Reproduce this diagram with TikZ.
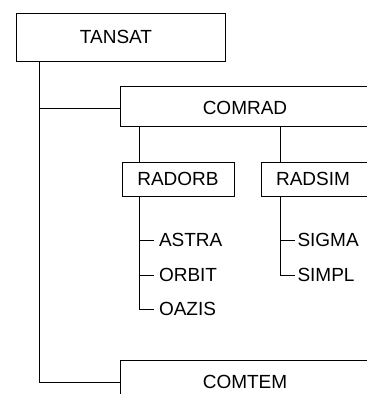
\documentclass[tikz,border=0pt]{standalone}
\usepackage{fontspec}
\setmainfont{Liberation Sans}
\begin{document}
\begin{tikzpicture}[x=1pt,y=-1pt,line width=1pt,
  box/.style={draw,rectangle,inner sep=0pt,anchor=north west},
  lbl/.style={font=\fontsize{19}{21}\selectfont,inner sep=0pt},
  leaf/.style={font=\fontsize{19}{21}\selectfont,inner sep=0pt,anchor=west}]
\useasboundingbox (0,0) rectangle (367,394);
\clip (0,0) rectangle (367,394);
\fill[white] (0,0) rectangle (367,394);
% boxes
\node[box,minimum width=209pt,minimum height=48pt] (tansat) at (16,13) {};
\node[box,minimum width=280pt,minimum height=40pt] (comrad) at (120,85.5) {};
\node[box,minimum width=112pt,minimum height=34pt] (radorb) at (122,162) {};
\node[box,minimum width=130pt,minimum height=34pt] (radsim) at (261,162) {};
\node[box,minimum width=280pt,minimum height=44pt] (comtem) at (120,360) {};
% labels
\node[lbl] (tansatT) at (116,37) {TANSAT};
\node[lbl] (comradT) at (245,108) {COMRAD};
\node[lbl] (radorbT) at (178,179) {RADORB};
\node[lbl] (radsimT) at (313,179) {RADSIM};
\node[lbl] (comtemT) at (245,382) {COMTEM};
\node[leaf] (astra) at (158.5,240) {ASTRA};
\node[leaf] (orbit) at (158.5,275) {ORBIT};
\node[leaf] (oazis) at (158.5,309) {OAZIS};
\node[leaf] (sigma) at (297,240) {SIGMA};
\node[leaf] (simpl) at (297,275) {SIMPL};
% connectors
\coordinate (trunk) at (39.5,0);
\coordinate (j1) at (0,108);
\coordinate (ra) at (139,0);
\coordinate (rs) at (280,0);
\draw (trunk |- tansat.south) -- (trunk |- comtem.west) -- (comtem.west);
\draw (trunk |- j1) -- (comrad.west |- j1);
\draw (ra |- comrad.south) -- (ra |- radorb.north);
\draw (rs |- comrad.south) -- (rs |- radsim.north);
\draw (ra |- radorb.south) -- (ra |- oazis.west) -- ([xshift=-5pt]oazis.west);
\draw (ra |- astra.west) -- ([xshift=-5pt]astra.west);
\draw (ra |- orbit.west) -- ([xshift=-5pt]orbit.west);
\draw (rs |- radsim.south) -- (rs |- simpl.west) -- ([xshift=-2pt]simpl.west);
\draw (rs |- sigma.west) -- ([xshift=-2pt]sigma.west);
\end{tikzpicture}
\end{document}
